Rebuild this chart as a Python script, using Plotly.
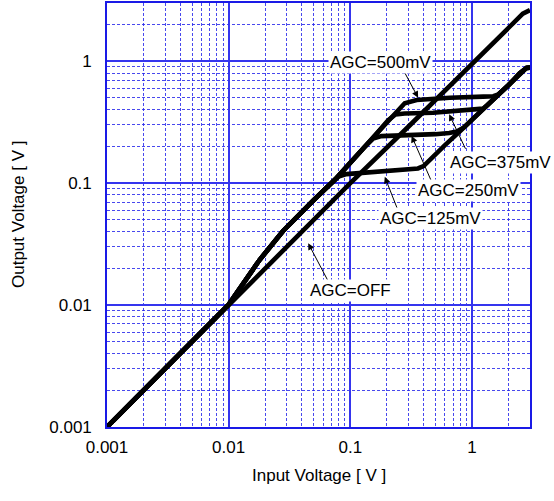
import numpy as np
import plotly.graph_objects as go

# ---------------- data ----------------
off_x = [0.001, 0.01, 0.034, 0.1, 0.3, 1.0, 2.0, 2.62, 3.0]
off_y = [0.001, 0.01, 0.0349, 0.0998, 0.29, 0.94, 1.84, 2.45, 2.62]

agc125_x = [0.001, 0.009, 0.01, 0.018, 0.028, 0.05, 0.07, 0.08, 0.093, 0.2, 0.3, 0.36, 0.40, 0.45,
            0.6, 0.8, 1.0, 1.23, 1.6, 2.0, 2.48, 2.81, 3.0]
agc125_y = [0.001, 0.009, 0.0101, 0.0235, 0.0405, 0.0725, 0.101, 0.113, 0.1186, 0.126, 0.129, 0.132, 0.138, 0.156,
            0.205, 0.267, 0.331, 0.403, 0.515, 0.636, 0.80, 0.88, 0.885]

agc250_x = [0.001, 0.009, 0.01, 0.018, 0.028, 0.05, 0.0776, 0.13, 0.154, 0.18, 0.25, 0.33, 0.5, 0.65,
            0.75, 0.85, 1.0, 1.23, 1.6, 2.0, 2.48, 2.81, 3.0]
agc250_y = [0.001, 0.009, 0.0101, 0.0235, 0.0405, 0.0725, 0.111, 0.196, 0.232, 0.243, 0.245, 0.246, 0.252, 0.258,
            0.265, 0.284, 0.331, 0.403, 0.515, 0.636, 0.80, 0.88, 0.885]

agc375_x = [0.001, 0.009, 0.01, 0.018, 0.028, 0.05, 0.0776, 0.154, 0.205, 0.235, 0.28, 0.48, 0.9, 1.1,
            1.23, 1.35, 1.6, 2.0, 2.48, 2.81, 3.0]
agc375_y = [0.001, 0.009, 0.0101, 0.0235, 0.0405, 0.0725, 0.111, 0.237, 0.328, 0.365, 0.372, 0.378, 0.394, 0.398,
            0.408, 0.440, 0.515, 0.636, 0.80, 0.88, 0.885]

agc500_x = [0.001, 0.009, 0.01, 0.018, 0.028, 0.05, 0.0776, 0.154, 0.224, 0.255, 0.28, 0.351, 0.658, 1.24,
            1.5, 1.65, 2.0, 2.48, 2.81, 3.0]
agc500_y = [0.001, 0.009, 0.0101, 0.0235, 0.0405, 0.0725, 0.111, 0.237, 0.362, 0.418, 0.452, 0.481, 0.502, 0.512,
            0.516, 0.535, 0.636, 0.80, 0.88, 0.885]

tick_vals = [0.001, 0.01, 0.1, 1]
tick_text = ["0.001", "0.01", "0.1", "1"]

x_title = "Input Voltage [ V ]"
y_title = "Output Voltage [ V ]"

# labels: (text, text position in paper coords, arrow tip (data), arrow tail offset px)
labels = [
    ("AGC=500mV", 0.6454, 0.8597, 0.361, 0.502, -15, -28),
    ("AGC=375mV", 0.931, 0.6238, 0.650, 0.367, 17, 36),
    ("AGC=250mV", 0.854, 0.5578, 0.319, 0.244, 21, 48),
    ("AGC=125mV", 0.7636, 0.4929, 0.192, 0.1127, 13, 33),
    ("AGC=OFF", 0.5764, 0.3208, 0.0451, 0.0321, 20, 38),
]

# ---------------- figure ----------------
FONT = "Liberation Sans, Arial, sans-serif"
BLUE = "#3535ee"

fig = go.Figure()
for xs, ys in [(off_x, off_y), (agc125_x, agc125_y), (agc250_x, agc250_y),
               (agc375_x, agc375_y), (agc500_x, agc500_y)]:
    fig.add_trace(go.Scatter(x=xs, y=ys, mode="lines",
                             line=dict(color="black", width=4.6),
                             showlegend=False, hoverinfo="skip"))

minor_vals = [k * 10.0 ** e for e in range(-3, 1) for k in range(2, 10) if k * 10.0 ** e <= 3.0]

axis_common = dict(
    type="log",
    range=[-3, np.log10(3.0)],
    tickmode="array", tickvals=tick_vals, ticktext=tick_text,
    showgrid=True, gridcolor=BLUE, gridwidth=1.5,
    showline=True, linecolor="#1a1ae6", linewidth=1.6, mirror=True,
    ticks="", zeroline=False, automargin=False,
    tickfont=dict(family=FONT, size=17, color="black"),
    minor=dict(tickmode="array", tickvals=minor_vals, showgrid=True,
               gridcolor="rgba(40,40,235,0.85)", gridwidth=1, griddash="3px,2px"),
)

fig.update_xaxes(**axis_common, ticklabelstandoff=4)
fig.update_yaxes(**axis_common, ticklabelstandoff=10)

for text, tx, ty, px, py, ax, ay in labels:
    fig.add_annotation(x=np.log10(px), y=np.log10(py), xref="x", yref="y",
                       ax=ax, ay=ay, axref="pixel", ayref="pixel",
                       text="", showarrow=True, arrowhead=2, arrowsize=1.3,
                       arrowwidth=1, arrowcolor="black")
    fig.add_annotation(x=tx, y=ty, xref="paper", yref="paper", text=text,
                       showarrow=False, bgcolor="white", borderpad=1,
                       xanchor="center", yanchor="middle",
                       font=dict(family=FONT, size=17, color="black"))

fig.add_annotation(x=0.5, y=(427 - 476) / 424, xref="paper", yref="paper",
                   text=x_title, showarrow=False, xanchor="center", yanchor="middle",
                   font=dict(family=FONT, size=17, color="black"))
fig.add_annotation(x=(18 - 107) / 423, y=0.5, xref="paper", yref="paper",
                   text=y_title, showarrow=False, textangle=-90,
                   xanchor="center", yanchor="middle",
                   font=dict(family=FONT, size=17, color="black"))

fig.update_layout(
    width=554, height=501,
    margin=dict(l=107, r=24, t=3, b=74, autoexpand=False),
    paper_bgcolor="white", plot_bgcolor="white",
    showlegend=False,
    font=dict(family=FONT, size=17, color="black"),
)

fig.write_html("out.html", config={"displayModeBar": False},
               post_script="document.body.style.margin='0';document.body.style.padding='0';")
